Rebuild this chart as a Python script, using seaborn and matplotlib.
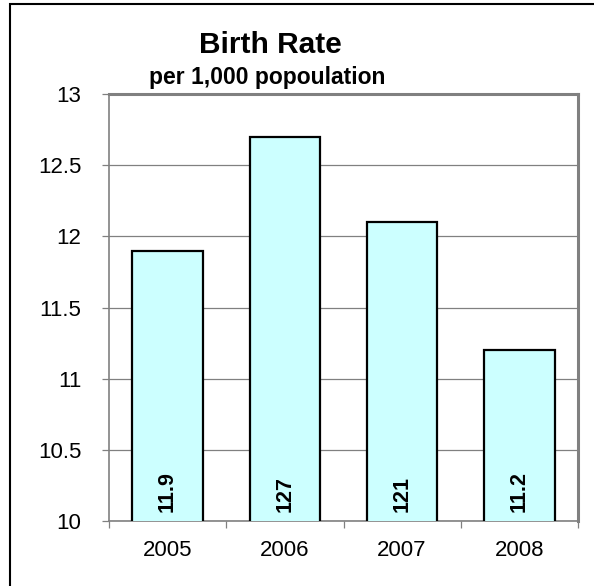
import matplotlib.pyplot as plt
import seaborn as sns
from matplotlib.patches import Rectangle
from matplotlib.ticker import FixedLocator

# data
years = ["2005", "2006", "2007", "2008"]
birth_rate = [11.9, 12.7, 12.1, 11.2]
bar_labels = ["11.9", "127", "121", "11.2"]
y_ticks = [10, 10.5, 11, 11.5, 12, 12.5, 13]
y_tick_labels = ["10", "10.5", "11", "11.5", "12", "12.5", "13"]

sns.set_style("white")
plt.rcParams["font.family"] = ["Liberation Sans", "DejaVu Sans"]
plt.rcParams["text.color"] = "black"
plt.rcParams["xtick.labelcolor"] = "black"
plt.rcParams["ytick.labelcolor"] = "black"

fig = plt.figure(figsize=(5.94, 5.86), dpi=100)
ax = fig.add_axes([109 / 594, 1 - 521 / 586, (578 - 109) / 594, (521 - 94) / 586])

sns.barplot(x=years, y=birth_rate, ax=ax, color="#CCFFFF", width=0.6,
            edgecolor="black", linewidth=1.6, saturation=1, zorder=3)

ax.set_ylim(10, 13)
ax.set_xlim(-0.5, 3.5)
ax.set_yticks(y_ticks)
ax.set_yticklabels(y_tick_labels, fontsize=16)
ax.yaxis.grid(True, color="#808080", linewidth=0.9, zorder=0)
ax.tick_params(axis="y", length=5, width=0.9, color="#808080", pad=15, left=True,
               labelcolor="black")
ax.tick_params(axis="x", which="major", length=0, labelsize=16, pad=14,
               labelcolor="black")
ax.xaxis.set_minor_locator(FixedLocator([-0.5, 0.5, 1.5, 2.5, 3.5]))
ax.tick_params(axis="x", which="minor", length=5, width=0.9, color="#808080", bottom=True)

for side in ["left", "bottom"]:
    ax.spines[side].set_color("#808080")
    ax.spines[side].set_linewidth(1.2)
for side in ["right", "top"]:
    ax.spines[side].set_color("#808080")
    ax.spines[side].set_linewidth(2.2)

for i, lbl in enumerate(bar_labels):
    ax.text(i, 10.06, lbl, rotation=90, ha="center", va="bottom",
            fontsize=15.5, fontweight="bold", color="black", zorder=4)

fig.text(270 / 594, 1 - 45 / 586, "Birth Rate", ha="center", va="center",
         fontsize=21.5, fontweight="bold", color="black")
fig.text(267 / 594, 1 - 77 / 586, "per 1,000 popoulation", ha="center", va="center",
         fontsize=16.5, fontweight="bold", color="black")

# outer chart border (runs off the right and bottom edges)
fig.add_artist(Rectangle((10 / 594, -0.05), 1.2, 1.05 + (1 - 4 / 586) - 1,
                         transform=fig.transFigure, fill=False,
                         edgecolor="black", linewidth=1.5))

fig.savefig("out.png", dpi=100)
